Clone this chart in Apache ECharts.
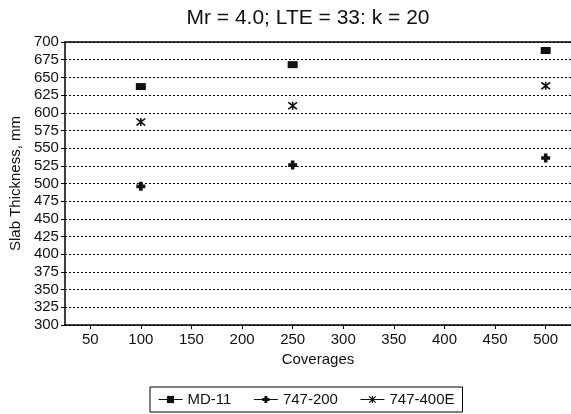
<!DOCTYPE html>
<html>
<head>
<meta charset="utf-8">
<script src="https://cdn.jsdelivr.net/npm/echarts@6/dist/echarts.min.js"></script>
<style>
  html, body { margin: 0; padding: 0; background: #fff; }
  #chart { width: 571px; height: 414px; }
</style>
</head>
<body>
<div id="chart"></div>
<script>
const coverages = [100, 250, 500];
const md11 = [637, 668, 688];
const b747_200 = [496, 526, 536];
const b747_400e = [587, 610, 638];
const xTicks = [50, 100, 150, 200, 250, 300, 350, 400, 450, 500];

const font = 'Liberation Sans';
const ink = '#111';

// marker shapes
const plusPath = 'path://M3,0 L7,0 L7,3 L10,3 L10,7 L7,7 L7,10 L3,10 L3,7 L0,7 L0,3 L3,3 Z';
const starPath = 'path://M0,1.3 L1.3,0 L10,8.7 L8.7,10 Z M8.7,0 L10,1.3 L1.3,10 L0,8.7 Z M4.2,0 L5.8,0 L5.8,10 L4.2,10 Z';

function pairs(ys) {
  return coverages.map((x, i) => [x, ys[i]]);
}

function makeSeries(name, ys, symbol, size) {
  return {
    name: name,
    type: 'line',
    data: pairs(ys),
    symbol: symbol,
    symbolSize: size,
    showSymbol: true,
    lineStyle: { width: 0, opacity: 0 },
    itemStyle: { color: ink },
    z: 5
  };
}

const chart = echarts.init(document.getElementById('chart'));

const option = {
  animation: false,
  textStyle: { fontFamily: font, color: ink },
  title: {
    text: 'Mr = 4.0; LTE = 33: k = 20',
    left: 303,
    textAlign: 'center',
    top: 3,
    textStyle: { fontFamily: font, fontSize: 21, fontWeight: 'normal', color: ink }
  },
  grid: { left: 64, right: 0, top: 42, bottom: 89 },
  legend: {
    left: 150,
    top: 387,
    orient: 'horizontal',
    borderColor: '#000',
    borderWidth: 1,
    padding: [5, 8, 5, 8],
    itemGap: 22,
    itemWidth: 24,
    itemHeight: 9,
    textStyle: { fontFamily: font, fontSize: 15, color: ink },
    lineStyle: { width: 1, color: ink, opacity: 1 },
    data: ['MD-11', '747-200', '747-400E']
  },
  xAxis: [
    {
      type: 'value',
      min: 25,
      max: 525,
      name: 'Coverages',
      nameLocation: 'middle',
      nameGap: 26,
      nameTextStyle: { fontFamily: font, fontSize: 15, color: ink },
      axisLine: { lineStyle: { color: '#000', width: 1.5 } },
      axisTick: { show: true, length: 4, customValues: xTicks, lineStyle: { color: '#000' } },
      axisLabel: { customValues: xTicks, fontSize: 15, color: ink, margin: 7 },
      splitLine: { show: false }
    },
    {
      type: 'value',
      position: 'top',
      min: 25,
      max: 525,
      axisLine: { show: true, lineStyle: { color: '#000', width: 1.5 } },
      axisTick: { show: false },
      axisLabel: { show: false },
      splitLine: { show: false }
    }
  ],
  yAxis: {
    type: 'value',
    min: 300,
    max: 700,
    interval: 25,
    name: 'Slab Thickness, mm',
    nameLocation: 'middle',
    nameGap: 37,
    nameTextStyle: { fontFamily: font, fontSize: 15, color: ink },
    axisLine: { show: true, lineStyle: { color: '#000', width: 1.5 } },
    axisTick: { show: true, length: 4, lineStyle: { color: '#000' } },
    axisLabel: { fontSize: 15, color: ink, margin: 6 },
    splitLine: { show: true, lineStyle: { color: '#000', type: [2, 2], width: 1 } }
  },
  series: [
    makeSeries('MD-11', md11, 'rect', [10, 7]),
    makeSeries('747-200', b747_200, plusPath, 9),
    makeSeries('747-400E', b747_400e, starPath, [10, 8])
  ]
};

chart.setOption(option);
</script>
</body>
</html>
